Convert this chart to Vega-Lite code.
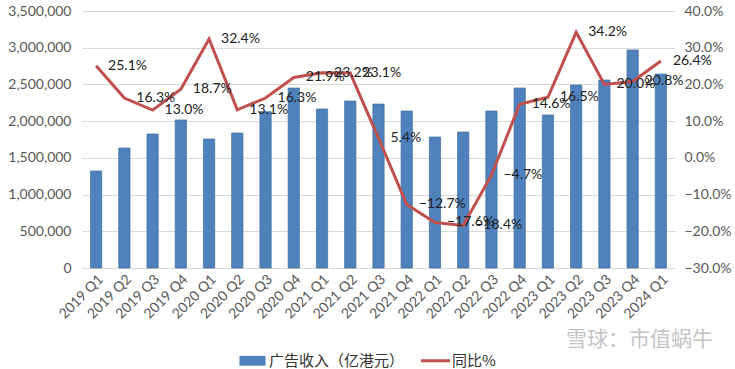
{
  "$schema": "https://vega.github.io/schema/vega-lite/v6.json",
  "width": 593,
  "height": 257,
  "autosize": {"type": "none"},
  "padding": {"left": 82, "top": 11, "right": 60, "bottom": 101},
  "config": {
    "font": "Lato",
    "view": {"stroke": null},
    "axis": {"labelFont": "Lato", "labelFontSize": 14, "labelColor": "#595959", "ticks": false, "domain": false, "title": null},
    "legend": {"labelFont": "Noto Sans CJK SC", "labelFontSize": 15, "labelColor": "#333333", "padding": 0}
  },
  "title": {"text": "雪球：市值蜗牛", "orient": "bottom", "anchor": "end", "color": "#C4C4C4", "fontSize": 21, "font": "Noto Sans CJK SC", "fontWeight": "normal", "frame": "group", "dx": 38, "offset": -40},
  "data": {"values": [
    {"q": "2019 Q1", "rev": 1321000, "yoy": 0.251},
    {"q": "2019 Q2", "rev": 1634000, "yoy": 0.163},
    {"q": "2019 Q3", "rev": 1825000, "yoy": 0.130},
    {"q": "2019 Q4", "rev": 2016000, "yoy": 0.187},
    {"q": "2020 Q1", "rev": 1757000, "yoy": 0.324},
    {"q": "2020 Q2", "rev": 1838000, "yoy": 0.131},
    {"q": "2020 Q3", "rev": 2129000, "yoy": 0.163},
    {"q": "2020 Q4", "rev": 2451000, "yoy": 0.219},
    {"q": "2021 Q1", "rev": 2165000, "yoy": 0.232},
    {"q": "2021 Q2", "rev": 2274000, "yoy": 0.231},
    {"q": "2021 Q3", "rev": 2233000, "yoy": 0.054},
    {"q": "2021 Q4", "rev": 2138000, "yoy": -0.127},
    {"q": "2022 Q1", "rev": 1784000, "yoy": -0.176},
    {"q": "2022 Q2", "rev": 1852000, "yoy": -0.184},
    {"q": "2022 Q3", "rev": 2138000, "yoy": -0.047},
    {"q": "2022 Q4", "rev": 2451000, "yoy": 0.146},
    {"q": "2023 Q1", "rev": 2084000, "yoy": 0.165},
    {"q": "2023 Q2", "rev": 2492000, "yoy": 0.342},
    {"q": "2023 Q3", "rev": 2560000, "yoy": 0.200},
    {"q": "2023 Q4", "rev": 2969000, "yoy": 0.208},
    {"q": "2024 Q1", "rev": 2642000, "yoy": 0.264}
  ]},
  "encoding": {
    "x": {"field": "q", "type": "ordinal", "sort": null,
      "scale": {"paddingInner": 0.6, "paddingOuter": 0.3},
      "axis": {"labelAngle": -45, "domain": true, "domainColor": "#D9D9D9", "labelPadding": 4, "grid": false}}
  },
  "layer": [
    {
      "mark": {"type": "bar", "stroke": "#41719C", "strokeWidth": 0.7},
      "encoding": {
        "y": {"field": "rev", "type": "quantitative", "scale": {"domain": [0, 3500000]},
          "axis": {"format": ",d", "values": [0, 500000, 1000000, 1500000, 2000000, 2500000, 3000000, 3500000], "grid": true, "gridColor": "#D9D9D9", "labelPadding": 11}},
        "color": {"datum": "广告收入（亿港元）", "type": "nominal",
          "scale": {"domain": ["广告收入（亿港元）", "同比%"], "range": ["#4F81BD", "#C0504D"]},
          "legend": {"title": null, "orient": "none", "legendX": 163, "legendY": 342, "direction": "horizontal", "symbolSize": 841, "columnPadding": 10, "labelOffset": 9,
            "encode": {"symbols": {"update": {
              "shape": {"signal": "datum.value === '同比%' ? 'M-1,0H1' : 'M-0.9,-0.34H0.9V0.34H-0.9Z'"},
              "size": {"value": 841},
              "fill": {"signal": "datum.value === '同比%' ? 'transparent' : '#4F81BD'"},
              "stroke": {"signal": "datum.value === '同比%' ? '#C0504D' : '#4F81BD'"},
              "strokeWidth": {"signal": "datum.value === '同比%' ? 3 : 0"},
              "opacity": {"value": 1}
            }}}}
        }
      }
    },
    {
      "encoding": {
        "y": {"field": "yoy", "type": "quantitative", "scale": {"domain": [-0.3, 0.4]},
          "axis": {"orient": "right", "format": ".1%", "values": [-0.3, -0.2, -0.1, 0, 0.1, 0.2, 0.3, 0.4], "grid": false, "labelPadding": 9}}
      },
      "layer": [
        {"mark": {"type": "line", "strokeWidth": 3}, "encoding": {"color": {"datum": "同比%", "type": "nominal",
          "legend": {"title": null, "orient": "none", "legendX": 163, "legendY": 342, "direction": "horizontal", "symbolSize": 841, "columnPadding": 10, "labelOffset": 9,
            "encode": {"symbols": {"update": {
              "shape": {"signal": "datum.value === '同比%' ? 'M-1,0H1' : 'M-0.9,-0.34H0.9V0.34H-0.9Z'"},
              "size": {"value": 841},
              "fill": {"signal": "datum.value === '同比%' ? 'transparent' : '#4F81BD'"},
              "stroke": {"signal": "datum.value === '同比%' ? '#C0504D' : '#4F81BD'"},
              "strokeWidth": {"signal": "datum.value === '同比%' ? 3 : 0"},
              "opacity": {"value": 1}
            }}}}}}},
        {"mark": {"type": "text", "align": "left", "baseline": "middle", "dx": 12, "fontSize": 14, "font": "Lato", "color": "#222222"},
          "encoding": {"text": {"field": "yoy", "type": "quantitative", "format": ".1%"}}}
      ]
    }
  ],
  "resolve": {"scale": {"y": "independent"}}
}
